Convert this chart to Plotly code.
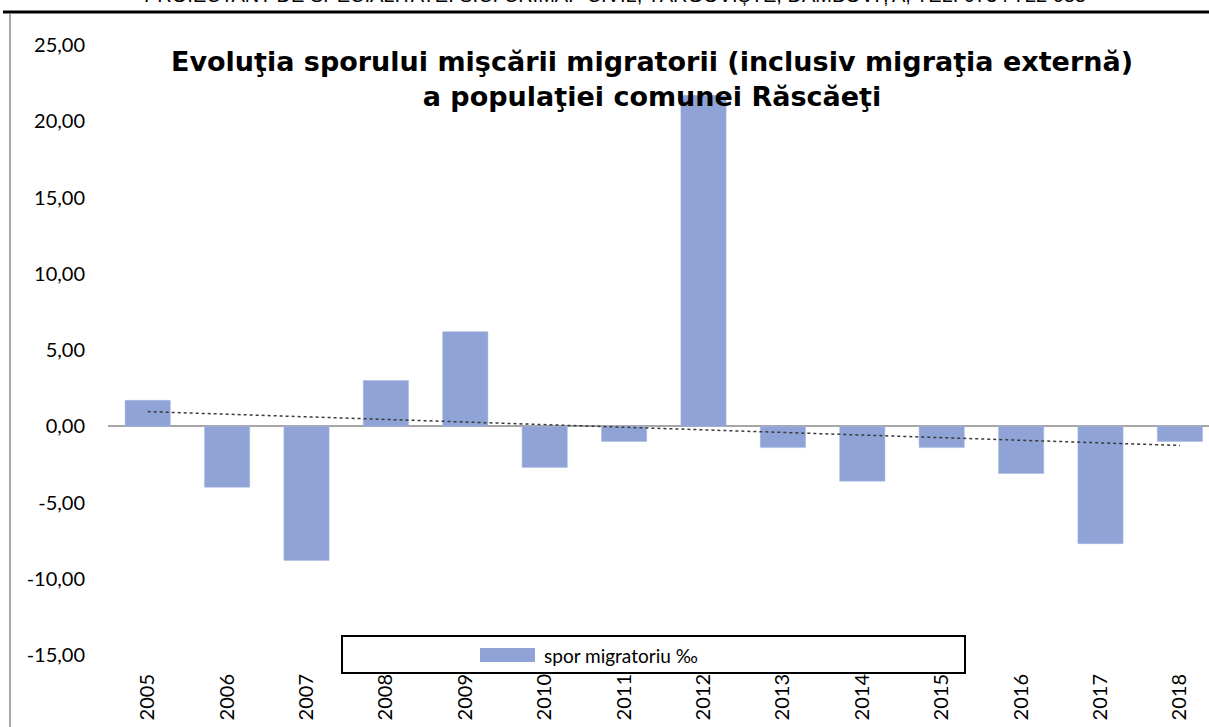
import numpy as np
import plotly.graph_objects as go

years = ["2005", "2006", "2007", "2008", "2009", "2010", "2011",
         "2012", "2013", "2014", "2015", "2016", "2017", "2018"]
spor = [1.7, -4.0, -8.8, 3.0, 6.2, -2.7, -1.0,
        21.7, -1.4, -3.6, -1.4, -3.1, -7.7, -1.0]
ytick_vals = [-15, -10, -5, 0, 5, 10, 15, 20, 25]
ytick_text = [f"{v:.2f}".replace(".", ",") for v in ytick_vals]

W, H = 1209, 727
L, R, T, B = 108, 1209, 45, 655  # plot area in pixels


def px(x):
    return (x - L) / (R - L)


def py(y):
    return (B - y) / (B - T)


# linear trendline, as Excel draws it
idx = np.arange(len(years))
slope, icpt = np.polyfit(idx, spor, 1)
trend = slope * idx + icpt

fig = go.Figure()
fig.add_trace(go.Bar(
    x=idx, y=spor,
    width=0.57,
    marker=dict(color="#8FA3D6", line=dict(color="#A9B9E0", width=0.5)),
    name="spor migratoriu ‰",
    showlegend=False,
))
fig.add_trace(go.Scatter(
    x=idx, y=trend, mode="lines",
    line=dict(color="#3a3a3a", width=1.5, dash="3px,3px"),
    showlegend=False, hoverinfo="skip",
))

# legend box drawn by hand (wide frame like the original)
shapes = [
    dict(type="rect", xref="paper", yref="paper",
         x0=px(342), x1=px(965), y0=py(673), y1=py(636),
         fillcolor="white", line=dict(color="black", width=2), layer="above"),
    dict(type="rect", xref="paper", yref="paper",
         x0=px(480), x1=px(535), y0=py(662), y1=py(648),
         fillcolor="#8FA3D6", line=dict(width=0), layer="above"),
    # page frame
    dict(type="line", xref="paper", yref="paper",
         x0=px(3), x1=px(1209), y0=py(12), y1=py(12),
         line=dict(color="black", width=3)),
    dict(type="line", xref="paper", yref="paper",
         x0=px(10), x1=px(10), y0=py(14), y1=py(740),
         line=dict(color="#8c8c8c", width=1.5)),
]

annotations = [
    dict(text="spor migratoriu ‰", xref="paper", yref="paper",
         x=px(542), y=py(655), xanchor="left", yanchor="middle",
         showarrow=False, font=dict(family="Lato", size=19, color="black")),
    dict(text="PROIECTANT DE SPECIALITATE: S.C. CRIMAP CIVIL, TÂRGOVIȘTE, DÂMBOVIȚA, TEL: 0734 722 055",
         xref="paper", yref="paper", x=px(615), y=py(8),
         xanchor="center", yanchor="bottom", showarrow=False,
         font=dict(family="Liberation Sans", size=20, color="black")),
]

fig.update_layout(
    width=W, height=H,
    margin=dict(l=L, r=W - R, t=T, b=H - B, pad=0),
    paper_bgcolor="white", plot_bgcolor="white",
    title=dict(
        text="Evoluţia sporului mişcării migratorii (inclusiv migraţia externă)<br>a populaţiei comunei Răscăeţi",
        font=dict(family="DejaVu Sans", size=27, color="black", weight="bold"),
        x=652 / W, xref="container", xanchor="center",
        y=1 - 71 / H, yref="container", yanchor="top",
    ),
    xaxis=dict(
        range=[-0.5, -0.5 + (R - L) / 79.4],
        tickmode="array", tickvals=idx, ticktext=years,
        tickangle=-90, showgrid=False, showline=False, ticks="",
        ticklabelstandoff=14,
        tickfont=dict(family="Lato", size=20, color="black"),
    ),
    yaxis=dict(
        range=[-15, 25], tickmode="array",
        tickvals=ytick_vals, ticktext=ytick_text,
        showgrid=False, showline=False, ticks="",
        zeroline=True, zerolinecolor="#a6a6a6", zerolinewidth=1.5,
        ticklabelstandoff=22,
        tickfont=dict(family="Lato", size=20, color="black"),
    ),
    shapes=shapes,
    annotations=annotations,
)

fig.write_html("out.html", config={"displayModeBar": False},
               post_script="document.body.style.margin='0';")
